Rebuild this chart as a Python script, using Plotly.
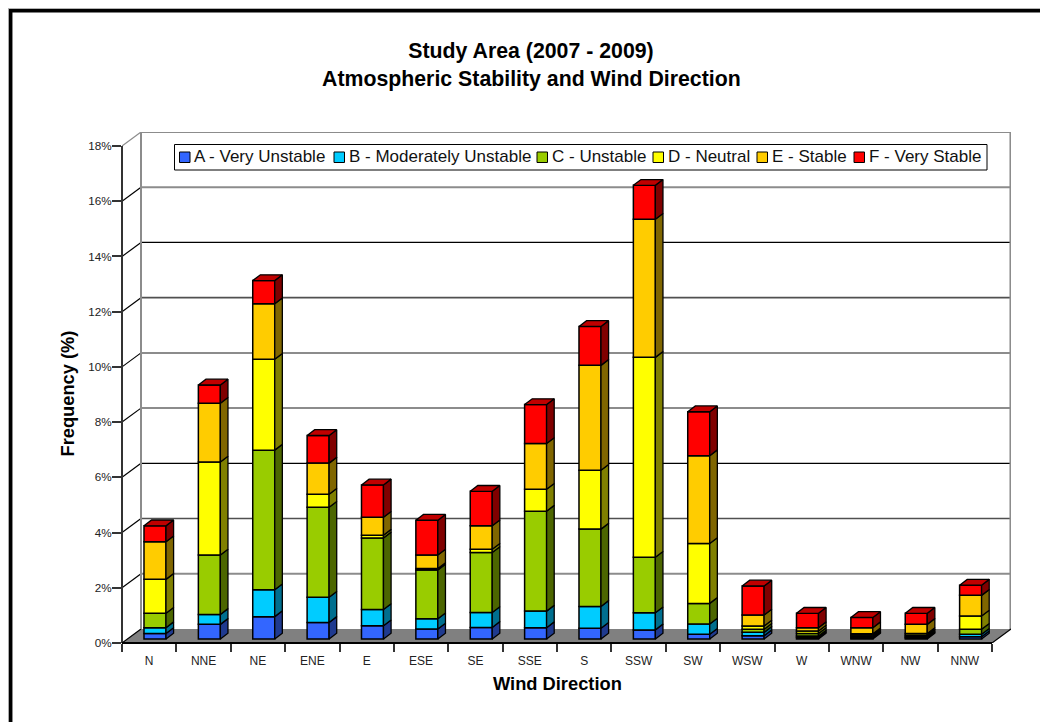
import plotly.graph_objects as go

directions = ["N", "NNE", "NE", "ENE", "E", "ESE", "SE", "SSE", "S", "SSW", "SW", "WSW", "W", "WNW", "NW", "NNW"]
a_very_unstable = [0.20, 0.53, 0.81, 0.60, 0.48, 0.36, 0.42, 0.41, 0.39, 0.33, 0.17, 0.12, 0.05, 0.04, 0.04, 0.08]
b_moderately_unstable = [0.21, 0.36, 0.97, 0.91, 0.59, 0.37, 0.54, 0.60, 0.79, 0.62, 0.37, 0.12, 0.06, 0.04, 0.04, 0.09]
c_unstable = [0.52, 2.15, 5.06, 3.26, 2.59, 1.77, 2.17, 3.62, 2.80, 2.01, 0.75, 0.11, 0.09, 0.06, 0.06, 0.18]
d_neutral = [1.23, 3.37, 3.29, 0.47, 0.10, 0.05, 0.12, 0.79, 2.13, 7.24, 2.17, 0.12, 0.09, 0.05, 0.06, 0.48]
e_stable = [1.36, 2.13, 2.01, 1.13, 0.65, 0.49, 0.85, 1.66, 3.80, 5.00, 3.18, 0.40, 0.12, 0.22, 0.33, 0.75]
f_very_stable = [0.58, 0.66, 0.84, 1.00, 1.17, 1.26, 1.25, 1.41, 1.41, 1.23, 1.59, 1.05, 0.52, 0.37, 0.40, 0.37]

series_names = ["A - Very Unstable", "B - Moderately Unstable", "C - Unstable", "D - Neutral", "E - Stable", "F - Very Stable"]
series_values = [a_very_unstable, b_moderately_unstable, c_unstable, d_neutral, e_stable, f_very_stable]
front_colors = ["#3366FF", "#00CCFF", "#99CC00", "#FFFF00", "#FFCC00", "#FF0000"]
side_colors = ["#1F3A8F", "#006F8F", "#4C6600", "#808000", "#806600", "#800000"]
top_color = "#C00000"
y_ticks = [0, 2, 4, 6, 8, 10, 12, 14, 16, 18]
grid_styles = {2: ("#8c8c8c", 2), 4: ("#505050", 1.6), 6: ("#000000", 1.2), 8: ("#8c8c8c", 2), 10: ("#8c8c8c", 2),
               12: ("#505050", 1.6), 14: ("#000000", 1.2), 16: ("#8c8c8c", 2), 18: ("#8c8c8c", 2)}

W, H = 1040, 722
ML, MR, MT, MB = 122, 29, 132, 79
PW, PH = W - ML - MR, H - MT - MB
UX = 870 / 16
UY = 497 / 18
WALL_DX, WALL_DY = 19 / UX, 14 / UY
BAR_DX, BAR_DY = 5.8 / UX, 4 / UY
DEPTH_DX, DEPTH_DY = 7.6 / UX, 5.8 / UY
BAR_W = 22 / UX
N = len(directions)
FONT = "Liberation Sans, Arial"


def px(v):
    return (v - ML) / PW


def py(v):
    return 1 - (v - MT) / PH


fig = go.Figure()
centers = [i + 0.5 + BAR_DX for i in range(N)]
cum = [BAR_DY] * N
side_x, side_y = [], []
for name, vals, col, side in zip(series_names, series_values, front_colors, side_colors):
    fig.add_trace(go.Bar(x=centers, y=vals, base=list(cum), name=name, width=BAR_W,
                         marker=dict(color=col, line=dict(color="#000000", width=1.5)),
                         showlegend=False))
    sx, sy = [], []
    for c, b, v in zip(centers, cum, vals):
        r = c + BAR_W / 2
        sx += [r, r + DEPTH_DX, r + DEPTH_DX, r, r, None]
        sy += [b, b + DEPTH_DY, b + v + DEPTH_DY, b + v, b, None]
    side_x.append(sx)
    side_y.append(sy)
    cum = [b + v for b, v in zip(cum, vals)]

for sx, sy, side, name in zip(side_x, side_y, side_colors, series_names):
    fig.add_trace(go.Scatter(x=sx, y=sy, mode="lines", fill="toself", fillcolor=side,
                             line=dict(color="#000000", width=1.3), hoverinfo="skip",
                             showlegend=False, name=name + " side"))
tx, ty = [], []
for c, t in zip(centers, cum):
    l, r = c - BAR_W / 2, c + BAR_W / 2
    tx += [l, r, r + DEPTH_DX, l + DEPTH_DX, l, None]
    ty += [t, t, t + DEPTH_DY, t + DEPTH_DY, t, None]
fig.add_trace(go.Scatter(x=tx, y=ty, mode="lines", fill="toself", fillcolor=top_color,
                         line=dict(color="#000000", width=1.3), hoverinfo="skip",
                         showlegend=False, name="top"))

shapes = []
# floor
shapes.append(dict(type="path", layer="below", xref="x", yref="y", line=dict(width=0), fillcolor="#808080",
                   path=f"M0,0 L{N},0 L{N + WALL_DX},{WALL_DY} L{WALL_DX},{WALL_DY} Z"))
# back-wall gridlines and left-wall diagonals
for t in y_ticks:
    if t:
        color, width = grid_styles[t]
        shapes.append(dict(type="line", layer="below", xref="x", yref="y", x0=WALL_DX, x1=N + WALL_DX,
                           y0=t + WALL_DY, y1=t + WALL_DY, line=dict(color=color, width=width)))
    dcol = "#8c8c8c" if t == 18 else "#000000"
    shapes.append(dict(type="line", layer="below", xref="x", yref="y", x0=0, x1=WALL_DX,
                       y0=t, y1=t + WALL_DY, line=dict(color=dcol, width=1.2)))
# wall edges
for x_edge in (WALL_DX, N + WALL_DX - 0.01):
    shapes.append(dict(type="line", layer="below", xref="x", yref="y", x0=x_edge, x1=x_edge,
                       y0=WALL_DY, y1=18 + WALL_DY - 0.01, line=dict(color="#8c8c8c", width=2)))
shapes.append(dict(type="line", layer="below", xref="x", yref="y", x0=N, x1=N + WALL_DX,
                   y0=0, y1=WALL_DY, line=dict(color="#000000", width=1.2)))
# axis lines
shapes.append(dict(type="line", xref="paper", yref="y", x0=0, x1=0, y0=0, y1=18, line=dict(color="#333333", width=2)))
shapes.append(dict(type="line", xref="x", yref="paper", x0=0, x1=N, y0=0, y1=0, line=dict(color="#000000", width=2)))
# outer frame (cut off by the right and bottom edge of the picture)
shapes.append(dict(type="line", xref="paper", yref="paper", x0=px(8.5), x1=px(8.5), y0=py(8), y1=py(H), line=dict(color="#b4b4b4", width=1)))
shapes.append(dict(type="line", xref="paper", yref="paper", x0=px(8), x1=px(W), y0=py(8.5), y1=py(8.5), line=dict(color="#b4b4b4", width=1)))
shapes.append(dict(type="line", xref="paper", yref="paper", x0=px(10.7), x1=px(10.7), y0=py(9), y1=py(H), line=dict(color="#000000", width=3.5)))
shapes.append(dict(type="line", xref="paper", yref="paper", x0=px(9), x1=px(W), y0=py(10.8), y1=py(10.8), line=dict(color="#000000", width=3.6)))
# legend box
shapes.append(dict(type="rect", xref="paper", yref="paper", x0=px(174.5), x1=px(987), y0=py(144.5), y1=py(170),
                   fillcolor="#ffffff", line=dict(color="#000000", width=1)))

annotations = []
legend_swatch_px = [179.5, 334, 537, 653, 757, 854]
for sw, name, col in zip(legend_swatch_px, series_names, front_colors):
    shapes.append(dict(type="rect", xref="paper", yref="paper", x0=px(sw), x1=px(sw + 10.5), y0=py(152), y1=py(162.5),
                       fillcolor=col, line=dict(color="#000000", width=1)))
    annotations.append(dict(text=name, xref="paper", yref="paper", x=px(sw + 12.5), y=py(157), xanchor="left",
                            yanchor="middle", showarrow=False,
                            font=dict(family=FONT, size=17, color="#111111")))

annotations.append(dict(text="<b>Atmospheric Stability and Wind Direction</b>", xref="paper", yref="paper",
                        x=px(531), y=py(79), xanchor="center", yanchor="middle", showarrow=False,
                        font=dict(family=FONT, size=21.3, color="#000000")))
annotations.append(dict(text="<b>Wind Direction</b>", xref="paper", yref="paper", x=px(557), y=py(683),
                        xanchor="center", yanchor="middle", showarrow=False,
                        font=dict(family=FONT, size=18.3, color="#000000")))
annotations.append(dict(text="<b>Frequency (%)</b>", xref="paper", yref="paper", x=px(66.5), y=py(394), textangle=-90,
                        xanchor="center", yanchor="middle", showarrow=False,
                        font=dict(family=FONT, size=18.3, color="#000000")))

fig.update_layout(
    width=W, height=H, autosize=False,
    margin=dict(l=ML, r=MR, t=MT, b=MB, pad=0),
    paper_bgcolor="#ffffff", plot_bgcolor="#ffffff",
    barmode="overlay", showlegend=False,
    title=dict(text="<b>Study Area (2007 - 2009)</b>", x=531 / W, xanchor="center", y=1 - 51 / H, yanchor="middle",
               font=dict(family=FONT, size=21.3, color="#000000")),
    shapes=shapes, annotations=annotations,
    xaxis=dict(range=[0, N + WALL_DX], showgrid=False, zeroline=False, showline=False,
               tickmode="array", tickvals=[i + 0.5 for i in range(N)], ticktext=directions,
               ticks="outside", ticklen=7, tickcolor="rgba(0,0,0,0)", tickangle=0,
               minor=dict(tickmode="array", tickvals=list(range(N + 1)), ticks="outside", ticklen=8,
                          tickcolor="#333333", tickwidth=1.5, showgrid=False),
               tickfont=dict(family=FONT, size=12, color="#222222")),
    yaxis=dict(range=[0, PH / UY], showgrid=False, zeroline=False, showline=False,
               tickmode="array", tickvals=y_ticks, ticktext=[f"{t}%" for t in y_ticks],
               ticks="outside", ticklen=9, tickcolor="#333333", tickwidth=1.5, ticklabelstandoff=-2,
               tickfont=dict(family=FONT, size=11.7, color="#222222")),
)

fig.write_html("out.html", config={"displayModeBar": False},
               post_script="document.body.style.margin='0';document.documentElement.style.overflow='hidden';")
